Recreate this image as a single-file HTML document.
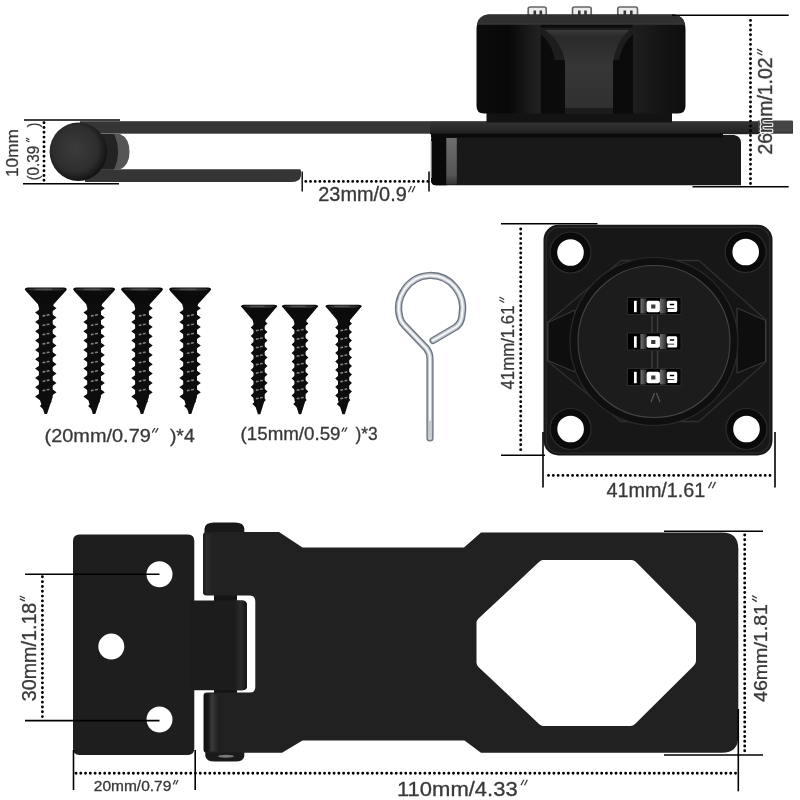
<!DOCTYPE html>
<html><head><meta charset="utf-8">
<style>
html,body{margin:0;padding:0;background:#fff;}
body{width:800px;height:800px;overflow:hidden;}
svg{display:block;}
text{font-family:"Liberation Sans",sans-serif;fill:#383838;stroke:#383838;stroke-width:0.3px;}
</style></head><body>
<svg width="800" height="800" viewBox="0 0 800 800">
<defs>
<radialGradient id="ballg" cx="0.45" cy="0.45" r="0.56"><stop offset="0" stop-color="#3b3b3b"/><stop offset="0.7" stop-color="#2e2e2e"/><stop offset="0.9" stop-color="#1c1c1c"/><stop offset="1" stop-color="#121212"/></radialGradient>
<linearGradient id="stripg" x1="0" y1="0" x2="0" y2="1"><stop offset="0" stop-color="#6e6e6e"/><stop offset="0.8" stop-color="#555"/><stop offset="1" stop-color="#333"/></linearGradient>
<linearGradient id="tongueg" x1="0" y1="0" x2="0" y2="1"><stop offset="0" stop-color="#3a3a3a"/><stop offset="0.08" stop-color="#2a2a2a"/><stop offset="0.45" stop-color="#363636"/><stop offset="1" stop-color="#303030"/></linearGradient>
<filter id="soft" color-interpolation-filters="sRGB" x="0" y="0" width="800" height="800" filterUnits="userSpaceOnUse"><feGaussianBlur stdDeviation="0.45"/></filter>
<clipPath id="haloclip" clipPathUnits="userSpaceOnUse"><rect x="-200" y="-30" width="400" height="60"/></clipPath>
<linearGradient id="whg" x1="0" y1="0" x2="1" y2="0"><stop offset="0" stop-color="#707070"/><stop offset="1" stop-color="#2a2a2a"/></linearGradient>
<linearGradient id="cylg" x1="0" y1="0" x2="1" y2="0"><stop offset="0" stop-color="#0c0c0c"/><stop offset="0.15" stop-color="#080808"/><stop offset="0.305" stop-color="#222"/><stop offset="0.31" stop-color="#0c0c0c"/><stop offset="0.745" stop-color="#0c0c0c"/><stop offset="0.75" stop-color="#1e1e1e"/><stop offset="0.9" stop-color="#131313"/><stop offset="1" stop-color="#0e0e0e"/></linearGradient>
<linearGradient id="plateg" x1="0" y1="0" x2="0" y2="1"><stop offset="0" stop-color="#343434"/><stop offset="1" stop-color="#202020"/></linearGradient>
<linearGradient id="barg" x1="0" y1="0" x2="1" y2="0"><stop offset="0" stop-color="#1a1a1a"/><stop offset="0.4" stop-color="#2c2c2c"/><stop offset="1" stop-color="#212121"/></linearGradient>
<linearGradient id="barg2" x1="0" y1="0" x2="1" y2="0"><stop offset="0" stop-color="#101010"/><stop offset="0.3" stop-color="#161616"/><stop offset="0.55" stop-color="#3a3a3a"/><stop offset="1" stop-color="#212121"/></linearGradient>
<linearGradient id="tabg" x1="0" y1="0" x2="1" y2="0"><stop offset="0" stop-color="#1c1c1c"/><stop offset="0.5" stop-color="#2a2a2a"/><stop offset="1" stop-color="#161616"/></linearGradient>

</defs>
<rect width="800" height="800" fill="#fff"/>
<g filter="url(#soft)">
<g id="sideview">
<!-- upper plate -->
<rect x="80" y="121.200" width="713" height="12.500" fill="#353535"/>
<rect x="430" y="121.800" width="330" height="12.400" fill="url(#plateg)"/>
<rect x="758" y="120.500" width="34.500" height="11.500" fill="#444"/>
<!-- lower bar -->
<path d="M85 169.300 H299.500 Q301 169.300 301 171 V176 Q300 182 291 182 H85 Z" fill="#353535"/>
<!-- hinge cap -->
<path d="M100 134 H120 Q129.500 138 129.500 152 Q129.500 165 120 169.500 H100 Z" fill="#565656"/>
<path d="M100 134 H114 Q118 142 118 152 Q118 161 114 169.500 H100 Z" fill="#232323"/>
<!-- ball -->
<ellipse cx="78.300" cy="151.700" rx="28.700" ry="29.200" fill="url(#ballg)"/>
<!-- base block -->
<rect x="431" y="133.500" width="292" height="4" fill="#0a0a0a"/>
<path d="M437 135 H734 Q741 136 741 143 V185.300 H436 Q431 185.300 431 180 V141 Q431 135 437 135 Z" fill="#191919"/>
<path d="M437 135 H446.500 V185.300 H436 Q431 185.300 431 180 V141 Q431 135 437 135 Z" fill="#090909"/>
<rect x="446.300" y="138" width="10.500" height="46.500" fill="url(#stripg)"/>
<rect x="431" y="134" width="292" height="3.500" fill="#0a0a0a"/>
<path d="M431.300 141 V178" stroke="#8a8a8a" stroke-width="1.200"/>
<!-- dial tabs on top -->
<g fill="#ececec" stroke="#666" stroke-width="1.700">
<rect x="528.200" y="7" width="18" height="9" rx="2"/><rect x="572.500" y="7" width="18.700" height="9" rx="2"/><rect x="617.800" y="7" width="19.700" height="9" rx="2"/>
</g>
<g fill="#3a3a3a">
<rect x="533.500" y="10.500" width="2.600" height="5"/><rect x="539.500" y="10.500" width="2.600" height="5"/>
<rect x="578" y="10.500" width="2.600" height="5"/><rect x="584.200" y="10.500" width="2.600" height="5"/>
<rect x="623.500" y="10.500" width="2.600" height="5"/><rect x="630" y="10.500" width="2.600" height="5"/>
</g>
<!-- cylinder neck -->
<rect x="486.500" y="110" width="185.500" height="12.500" fill="#131313"/>
<!-- cylinder -->
<path d="M488 14.500 H674 Q685.500 16 685.500 30 V106 Q685.500 113.500 678 113.500 H484 Q476.500 113.500 476.500 106 V30 Q476.500 16 488 14.500 Z" fill="url(#cylg)"/>
<path d="M488 14.500 H674 Q684 16 685 24 H477 Q478 16 488 14.500 Z" fill="#303030"/>
<rect x="477" y="23.500" width="208" height="1.200" fill="#3a3a3a"/>
<!-- notch -->
<rect x="541" y="27.500" width="92" height="86" fill="#0b0b0b"/>
<path d="M541 27.500 H633 V34 Q622 44 619 60 H555 Q552 44 541 34 Z" fill="#1d1d1d"/>
<path d="M545 30 H629 Q616 42 613 62 V112 H565 V62 Q562 42 545 30 Z" fill="url(#tongueg)"/>
<rect x="565" y="108" width="48" height="6" fill="#1c1c1c"/>
</g>

<g id="screws">
<path d="M24.799999999999997 289.4 Q24.799999999999997 287.8 27.799999999999997 287.59999999999997 H63.8 Q66.8 287.8 66.8 289.4 L65.3 291.4 L54.099999999999994 303.8 H37.5 L26.299999999999997 291.4 Z" fill="#0b0b0b"/>
<ellipse cx="45.8" cy="289.5" rx="18.5" ry="1.5" fill="#303030"/>
<path d="M35.3 289.3 H52.1" stroke="#555" stroke-width="1" fill="none"/>
<path d="M37.5 302.8 H54.099999999999994 L52.699999999999996 307.8 V397 L47.0 414 L44.599999999999994 414 L38.9 397 V307.8 Z" fill="#0d0d0d"/>
<path d="M39.9 309.2 L35.1 312.6 L39.9 316.2 Z M51.7 304.8 L56.5 308.2 L51.7 311.8 Z M39.9 318.5 L35.1 321.9 L39.9 325.5 Z M51.7 314.1 L56.5 317.5 L51.7 321.1 Z M39.9 327.9 L35.1 331.3 L39.9 334.9 Z M51.7 323.5 L56.5 326.9 L51.7 330.5 Z M39.9 337.2 L35.1 340.6 L39.9 344.2 Z M51.7 332.8 L56.5 336.2 L51.7 339.8 Z M39.9 346.5 L35.1 349.9 L39.9 353.5 Z M51.7 342.1 L56.5 345.5 L51.7 349.1 Z M39.9 355.8 L35.1 359.2 L39.9 362.8 Z M51.7 351.5 L56.5 354.9 L51.7 358.5 Z M39.9 365.2 L35.1 368.6 L39.9 372.2 Z M51.7 360.8 L56.5 364.2 L51.7 367.8 Z M39.9 374.5 L35.1 377.9 L39.9 381.5 Z M51.7 370.1 L56.5 373.5 L51.7 377.1 Z M39.9 383.8 L35.1 387.2 L39.9 390.8 Z M51.7 379.5 L56.5 382.9 L51.7 386.5 Z M39.9 393.2 L35.1 396.6 L39.9 400.2 Z M51.7 388.8 L56.5 392.2 L51.7 395.8 Z M43.5 402.5 L39.8 405.9 L43.5 409.5 Z M48.1 398.1 L51.8 401.5 L48.1 405.1 Z " fill="#0d0d0d"/>
<path d="M43.2 315.9 l1.5 -0.3 M47.4 315.1 l1.5 -0.3 M43.2 325.3 l1.5 -0.3 M47.4 324.5 l1.5 -0.3 M43.2 334.6 l1.5 -0.3 M47.4 333.8 l1.5 -0.3 M43.2 343.9 l1.5 -0.3 M47.4 343.1 l1.5 -0.3 M43.2 353.3 l1.5 -0.3 M47.4 352.5 l1.5 -0.3 M43.2 362.6 l1.5 -0.3 M47.4 361.8 l1.5 -0.3 M43.2 371.9 l1.5 -0.3 M47.4 371.1 l1.5 -0.3 M43.2 381.2 l1.5 -0.3 M47.4 380.4 l1.5 -0.3 M43.2 390.6 l1.5 -0.3 M47.4 389.8 l1.5 -0.3 " stroke="#808080" stroke-width="1.6" fill="none" stroke-linecap="round"/>
<path d="M73.1 289.4 Q73.1 287.8 76.1 287.59999999999997 H112.1 Q115.1 287.8 115.1 289.4 L113.6 291.4 L102.39999999999999 303.8 H85.8 L74.6 291.4 Z" fill="#0b0b0b"/>
<ellipse cx="94.1" cy="289.5" rx="18.5" ry="1.5" fill="#303030"/>
<path d="M83.6 289.3 H100.4" stroke="#555" stroke-width="1" fill="none"/>
<path d="M85.8 302.8 H102.39999999999999 L101.0 307.8 V397 L95.3 414 L92.89999999999999 414 L87.19999999999999 397 V307.8 Z" fill="#0d0d0d"/>
<path d="M88.2 309.2 L83.4 312.6 L88.2 316.2 Z M100.0 304.8 L104.8 308.2 L100.0 311.8 Z M88.2 318.5 L83.4 321.9 L88.2 325.5 Z M100.0 314.1 L104.8 317.5 L100.0 321.1 Z M88.2 327.9 L83.4 331.3 L88.2 334.9 Z M100.0 323.5 L104.8 326.9 L100.0 330.5 Z M88.2 337.2 L83.4 340.6 L88.2 344.2 Z M100.0 332.8 L104.8 336.2 L100.0 339.8 Z M88.2 346.5 L83.4 349.9 L88.2 353.5 Z M100.0 342.1 L104.8 345.5 L100.0 349.1 Z M88.2 355.8 L83.4 359.2 L88.2 362.8 Z M100.0 351.5 L104.8 354.9 L100.0 358.5 Z M88.2 365.2 L83.4 368.6 L88.2 372.2 Z M100.0 360.8 L104.8 364.2 L100.0 367.8 Z M88.2 374.5 L83.4 377.9 L88.2 381.5 Z M100.0 370.1 L104.8 373.5 L100.0 377.1 Z M88.2 383.8 L83.4 387.2 L88.2 390.8 Z M100.0 379.5 L104.8 382.9 L100.0 386.5 Z M88.2 393.2 L83.4 396.6 L88.2 400.2 Z M100.0 388.8 L104.8 392.2 L100.0 395.8 Z M91.8 402.5 L88.1 405.9 L91.8 409.5 Z M96.4 398.1 L100.1 401.5 L96.4 405.1 Z " fill="#0d0d0d"/>
<path d="M91.5 315.9 l1.5 -0.3 M95.7 315.1 l1.5 -0.3 M91.5 325.3 l1.5 -0.3 M95.7 324.5 l1.5 -0.3 M91.5 334.6 l1.5 -0.3 M95.7 333.8 l1.5 -0.3 M91.5 343.9 l1.5 -0.3 M95.7 343.1 l1.5 -0.3 M91.5 353.3 l1.5 -0.3 M95.7 352.5 l1.5 -0.3 M91.5 362.6 l1.5 -0.3 M95.7 361.8 l1.5 -0.3 M91.5 371.9 l1.5 -0.3 M95.7 371.1 l1.5 -0.3 M91.5 381.2 l1.5 -0.3 M95.7 380.4 l1.5 -0.3 M91.5 390.6 l1.5 -0.3 M95.7 389.8 l1.5 -0.3 " stroke="#808080" stroke-width="1.6" fill="none" stroke-linecap="round"/>
<path d="M121 289.4 Q121 287.8 124 287.59999999999997 H160 Q163 287.8 163 289.4 L161.5 291.4 L150.3 303.8 H133.7 L122.5 291.4 Z" fill="#0b0b0b"/>
<ellipse cx="142" cy="289.5" rx="18.5" ry="1.5" fill="#303030"/>
<path d="M131.5 289.3 H148.3" stroke="#555" stroke-width="1" fill="none"/>
<path d="M133.7 302.8 H150.3 L148.9 307.8 V397 L143.2 414 L140.8 414 L135.1 397 V307.8 Z" fill="#0d0d0d"/>
<path d="M136.1 309.2 L131.3 312.6 L136.1 316.2 Z M147.9 304.8 L152.7 308.2 L147.9 311.8 Z M136.1 318.5 L131.3 321.9 L136.1 325.5 Z M147.9 314.1 L152.7 317.5 L147.9 321.1 Z M136.1 327.9 L131.3 331.3 L136.1 334.9 Z M147.9 323.5 L152.7 326.9 L147.9 330.5 Z M136.1 337.2 L131.3 340.6 L136.1 344.2 Z M147.9 332.8 L152.7 336.2 L147.9 339.8 Z M136.1 346.5 L131.3 349.9 L136.1 353.5 Z M147.9 342.1 L152.7 345.5 L147.9 349.1 Z M136.1 355.8 L131.3 359.2 L136.1 362.8 Z M147.9 351.5 L152.7 354.9 L147.9 358.5 Z M136.1 365.2 L131.3 368.6 L136.1 372.2 Z M147.9 360.8 L152.7 364.2 L147.9 367.8 Z M136.1 374.5 L131.3 377.9 L136.1 381.5 Z M147.9 370.1 L152.7 373.5 L147.9 377.1 Z M136.1 383.8 L131.3 387.2 L136.1 390.8 Z M147.9 379.5 L152.7 382.9 L147.9 386.5 Z M136.1 393.2 L131.3 396.6 L136.1 400.2 Z M147.9 388.8 L152.7 392.2 L147.9 395.8 Z M139.7 402.5 L136.0 405.9 L139.7 409.5 Z M144.3 398.1 L148.0 401.5 L144.3 405.1 Z " fill="#0d0d0d"/>
<path d="M139.4 315.9 l1.5 -0.3 M143.6 315.1 l1.5 -0.3 M139.4 325.3 l1.5 -0.3 M143.6 324.5 l1.5 -0.3 M139.4 334.6 l1.5 -0.3 M143.6 333.8 l1.5 -0.3 M139.4 343.9 l1.5 -0.3 M143.6 343.1 l1.5 -0.3 M139.4 353.3 l1.5 -0.3 M143.6 352.5 l1.5 -0.3 M139.4 362.6 l1.5 -0.3 M143.6 361.8 l1.5 -0.3 M139.4 371.9 l1.5 -0.3 M143.6 371.1 l1.5 -0.3 M139.4 381.2 l1.5 -0.3 M143.6 380.4 l1.5 -0.3 M139.4 390.6 l1.5 -0.3 M143.6 389.8 l1.5 -0.3 " stroke="#808080" stroke-width="1.6" fill="none" stroke-linecap="round"/>
<path d="M169.1 289.4 Q169.1 287.8 172.1 287.59999999999997 H208.1 Q211.1 287.8 211.1 289.4 L209.6 291.4 L198.4 303.8 H181.79999999999998 L170.6 291.4 Z" fill="#0b0b0b"/>
<ellipse cx="190.1" cy="289.5" rx="18.5" ry="1.5" fill="#303030"/>
<path d="M179.6 289.3 H196.4" stroke="#555" stroke-width="1" fill="none"/>
<path d="M181.79999999999998 302.8 H198.4 L197.0 307.8 V397 L191.29999999999998 414 L188.9 414 L183.2 397 V307.8 Z" fill="#0d0d0d"/>
<path d="M184.2 309.2 L179.4 312.6 L184.2 316.2 Z M196.0 304.8 L200.8 308.2 L196.0 311.8 Z M184.2 318.5 L179.4 321.9 L184.2 325.5 Z M196.0 314.1 L200.8 317.5 L196.0 321.1 Z M184.2 327.9 L179.4 331.3 L184.2 334.9 Z M196.0 323.5 L200.8 326.9 L196.0 330.5 Z M184.2 337.2 L179.4 340.6 L184.2 344.2 Z M196.0 332.8 L200.8 336.2 L196.0 339.8 Z M184.2 346.5 L179.4 349.9 L184.2 353.5 Z M196.0 342.1 L200.8 345.5 L196.0 349.1 Z M184.2 355.8 L179.4 359.2 L184.2 362.8 Z M196.0 351.5 L200.8 354.9 L196.0 358.5 Z M184.2 365.2 L179.4 368.6 L184.2 372.2 Z M196.0 360.8 L200.8 364.2 L196.0 367.8 Z M184.2 374.5 L179.4 377.9 L184.2 381.5 Z M196.0 370.1 L200.8 373.5 L196.0 377.1 Z M184.2 383.8 L179.4 387.2 L184.2 390.8 Z M196.0 379.5 L200.8 382.9 L196.0 386.5 Z M184.2 393.2 L179.4 396.6 L184.2 400.2 Z M196.0 388.8 L200.8 392.2 L196.0 395.8 Z M187.8 402.5 L184.1 405.9 L187.8 409.5 Z M192.4 398.1 L196.1 401.5 L192.4 405.1 Z " fill="#0d0d0d"/>
<path d="M187.5 315.9 l1.5 -0.3 M191.7 315.1 l1.5 -0.3 M187.5 325.3 l1.5 -0.3 M191.7 324.5 l1.5 -0.3 M187.5 334.6 l1.5 -0.3 M191.7 333.8 l1.5 -0.3 M187.5 343.9 l1.5 -0.3 M191.7 343.1 l1.5 -0.3 M187.5 353.3 l1.5 -0.3 M191.7 352.5 l1.5 -0.3 M187.5 362.6 l1.5 -0.3 M191.7 361.8 l1.5 -0.3 M187.5 371.9 l1.5 -0.3 M191.7 371.1 l1.5 -0.3 M187.5 381.2 l1.5 -0.3 M191.7 380.4 l1.5 -0.3 M187.5 390.6 l1.5 -0.3 M191.7 389.8 l1.5 -0.3 " stroke="#808080" stroke-width="1.6" fill="none" stroke-linecap="round"/>
<path d="M240.90000000000003 306.5 Q240.90000000000003 304.90000000000003 243.90000000000003 304.7 H274.3 Q277.3 304.90000000000003 277.3 306.5 L275.8 307.90000000000003 L266.1 319.5 H252.10000000000002 L242.40000000000003 307.90000000000003 Z" fill="#0b0b0b"/>
<ellipse cx="259.1" cy="306.6" rx="15.7" ry="1.5" fill="#303030"/>
<path d="M250.0 306.40000000000003 H264.6" stroke="#555" stroke-width="1" fill="none"/>
<path d="M252.10000000000002 318.5 H266.1 L264.70000000000005 323.5 V400 L260.3 414.3 L257.90000000000003 414.3 L253.50000000000003 400 V323.5 Z" fill="#0d0d0d"/>
<path d="M254.5 324.1 L250.7 327.5 L254.5 331.1 Z M263.7 320.1 L267.5 323.5 L263.7 327.1 Z M254.5 332.6 L250.7 336.0 L254.5 339.6 Z M263.7 328.6 L267.5 332.0 L263.7 335.6 Z M254.5 341.1 L250.7 344.5 L254.5 348.1 Z M263.7 337.1 L267.5 340.5 L263.7 344.1 Z M254.5 349.6 L250.7 353.0 L254.5 356.6 Z M263.7 345.6 L267.5 349.0 L263.7 352.6 Z M254.5 358.1 L250.7 361.5 L254.5 365.1 Z M263.7 354.1 L267.5 357.5 L263.7 361.1 Z M254.5 366.6 L250.7 370.0 L254.5 373.6 Z M263.7 362.6 L267.5 366.0 L263.7 369.6 Z M254.5 375.1 L250.7 378.5 L254.5 382.1 Z M263.7 371.1 L267.5 374.5 L263.7 378.1 Z M254.5 383.6 L250.7 387.0 L254.5 390.6 Z M263.7 379.6 L267.5 383.0 L263.7 386.6 Z M254.5 392.1 L250.7 395.5 L254.5 399.1 Z M263.7 388.1 L267.5 391.5 L263.7 395.1 Z M256.1 400.6 L252.3 404.0 L256.1 407.6 Z M262.1 396.6 L265.9 400.0 L262.1 403.6 Z " fill="#0d0d0d"/>
<path d="M256.5 330.6 l1.5 -0.3 M260.7 329.8 l1.5 -0.3 M256.5 339.1 l1.5 -0.3 M260.7 338.3 l1.5 -0.3 M256.5 347.6 l1.5 -0.3 M260.7 346.8 l1.5 -0.3 M256.5 356.1 l1.5 -0.3 M260.7 355.3 l1.5 -0.3 M256.5 364.6 l1.5 -0.3 M260.7 363.8 l1.5 -0.3 M256.5 373.1 l1.5 -0.3 M260.7 372.3 l1.5 -0.3 M256.5 381.6 l1.5 -0.3 M260.7 380.8 l1.5 -0.3 M256.5 390.1 l1.5 -0.3 M260.7 389.3 l1.5 -0.3 M256.5 398.6 l1.5 -0.3 M260.7 397.8 l1.5 -0.3 " stroke="#808080" stroke-width="1.6" fill="none" stroke-linecap="round"/>
<path d="M281.8 306.5 Q281.8 304.90000000000003 284.8 304.7 H315.2 Q318.2 304.90000000000003 318.2 306.5 L316.7 307.90000000000003 L307.0 319.5 H293.0 L283.3 307.90000000000003 Z" fill="#0b0b0b"/>
<ellipse cx="300" cy="306.6" rx="15.7" ry="1.5" fill="#303030"/>
<path d="M290.9 306.40000000000003 H305.5" stroke="#555" stroke-width="1" fill="none"/>
<path d="M293.0 318.5 H307.0 L305.6 323.5 V400 L301.2 414.3 L298.8 414.3 L294.4 400 V323.5 Z" fill="#0d0d0d"/>
<path d="M295.4 324.1 L291.6 327.5 L295.4 331.1 Z M304.6 320.1 L308.4 323.5 L304.6 327.1 Z M295.4 332.6 L291.6 336.0 L295.4 339.6 Z M304.6 328.6 L308.4 332.0 L304.6 335.6 Z M295.4 341.1 L291.6 344.5 L295.4 348.1 Z M304.6 337.1 L308.4 340.5 L304.6 344.1 Z M295.4 349.6 L291.6 353.0 L295.4 356.6 Z M304.6 345.6 L308.4 349.0 L304.6 352.6 Z M295.4 358.1 L291.6 361.5 L295.4 365.1 Z M304.6 354.1 L308.4 357.5 L304.6 361.1 Z M295.4 366.6 L291.6 370.0 L295.4 373.6 Z M304.6 362.6 L308.4 366.0 L304.6 369.6 Z M295.4 375.1 L291.6 378.5 L295.4 382.1 Z M304.6 371.1 L308.4 374.5 L304.6 378.1 Z M295.4 383.6 L291.6 387.0 L295.4 390.6 Z M304.6 379.6 L308.4 383.0 L304.6 386.6 Z M295.4 392.1 L291.6 395.5 L295.4 399.1 Z M304.6 388.1 L308.4 391.5 L304.6 395.1 Z M297.0 400.6 L293.2 404.0 L297.0 407.6 Z M303.0 396.6 L306.8 400.0 L303.0 403.6 Z " fill="#0d0d0d"/>
<path d="M297.4 330.6 l1.5 -0.3 M301.6 329.8 l1.5 -0.3 M297.4 339.1 l1.5 -0.3 M301.6 338.3 l1.5 -0.3 M297.4 347.6 l1.5 -0.3 M301.6 346.8 l1.5 -0.3 M297.4 356.1 l1.5 -0.3 M301.6 355.3 l1.5 -0.3 M297.4 364.6 l1.5 -0.3 M301.6 363.8 l1.5 -0.3 M297.4 373.1 l1.5 -0.3 M301.6 372.3 l1.5 -0.3 M297.4 381.6 l1.5 -0.3 M301.6 380.8 l1.5 -0.3 M297.4 390.1 l1.5 -0.3 M301.6 389.3 l1.5 -0.3 M297.4 398.6 l1.5 -0.3 M301.6 397.8 l1.5 -0.3 " stroke="#808080" stroke-width="1.6" fill="none" stroke-linecap="round"/>
<path d="M325.40000000000003 306.5 Q325.40000000000003 304.90000000000003 328.40000000000003 304.7 H358.8 Q361.8 304.90000000000003 361.8 306.5 L360.3 307.90000000000003 L350.6 319.5 H336.6 L326.90000000000003 307.90000000000003 Z" fill="#0b0b0b"/>
<ellipse cx="343.6" cy="306.6" rx="15.7" ry="1.5" fill="#303030"/>
<path d="M334.5 306.40000000000003 H349.1" stroke="#555" stroke-width="1" fill="none"/>
<path d="M336.6 318.5 H350.6 L349.20000000000005 323.5 V400 L344.8 414.3 L342.40000000000003 414.3 L338.0 400 V323.5 Z" fill="#0d0d0d"/>
<path d="M339.0 324.1 L335.2 327.5 L339.0 331.1 Z M348.2 320.1 L352.0 323.5 L348.2 327.1 Z M339.0 332.6 L335.2 336.0 L339.0 339.6 Z M348.2 328.6 L352.0 332.0 L348.2 335.6 Z M339.0 341.1 L335.2 344.5 L339.0 348.1 Z M348.2 337.1 L352.0 340.5 L348.2 344.1 Z M339.0 349.6 L335.2 353.0 L339.0 356.6 Z M348.2 345.6 L352.0 349.0 L348.2 352.6 Z M339.0 358.1 L335.2 361.5 L339.0 365.1 Z M348.2 354.1 L352.0 357.5 L348.2 361.1 Z M339.0 366.6 L335.2 370.0 L339.0 373.6 Z M348.2 362.6 L352.0 366.0 L348.2 369.6 Z M339.0 375.1 L335.2 378.5 L339.0 382.1 Z M348.2 371.1 L352.0 374.5 L348.2 378.1 Z M339.0 383.6 L335.2 387.0 L339.0 390.6 Z M348.2 379.6 L352.0 383.0 L348.2 386.6 Z M339.0 392.1 L335.2 395.5 L339.0 399.1 Z M348.2 388.1 L352.0 391.5 L348.2 395.1 Z M340.6 400.6 L336.8 404.0 L340.6 407.6 Z M346.6 396.6 L350.4 400.0 L346.6 403.6 Z " fill="#0d0d0d"/>
<path d="M341.0 330.6 l1.5 -0.3 M345.2 329.8 l1.5 -0.3 M341.0 339.1 l1.5 -0.3 M345.2 338.3 l1.5 -0.3 M341.0 347.6 l1.5 -0.3 M345.2 346.8 l1.5 -0.3 M341.0 356.1 l1.5 -0.3 M345.2 355.3 l1.5 -0.3 M341.0 364.6 l1.5 -0.3 M345.2 363.8 l1.5 -0.3 M341.0 373.1 l1.5 -0.3 M345.2 372.3 l1.5 -0.3 M341.0 381.6 l1.5 -0.3 M345.2 380.8 l1.5 -0.3 M341.0 390.1 l1.5 -0.3 M345.2 389.3 l1.5 -0.3 M341.0 398.6 l1.5 -0.3 M345.2 397.8 l1.5 -0.3 " stroke="#808080" stroke-width="1.6" fill="none" stroke-linecap="round"/>
</g>
<g id="key" fill="none" stroke-linecap="round" stroke-linejoin="round">
<path d="M433 340.500 L456 327 Q461.500 323 462 315 A32 33 0 1 0 400 318 Q401 322 404.500 325.500 L426.500 348.500 Q430 353 430 359 V438" stroke="#6e7680" stroke-width="7.2"/>
<path d="M433 340.500 L456 327 Q461.500 323 462 315 A32 33 0 1 0 400 318 Q401 322 404.500 325.500 L426.500 348.500 Q430 353 430 359 V438" stroke="#c2c7ce" stroke-width="4.400"/>
<path d="M433 340.500 L456 327 Q461.500 323 462 315 A32 33 0 1 0 400 318 Q401 322 404.500 325.500 L426.500 348.500 Q430 353 430 359 V438" stroke="#f6f7f8" stroke-width="2.000"/>
<path d="M430 421 V438" stroke="#9aa0a9" stroke-width="1"/>
</g>

<g id="lock">
<rect x="543.500" y="224.800" width="229" height="230.700" rx="15" ry="15" fill="#171717"/>
<rect x="546.200" y="227.300" width="223.600" height="225.700" rx="13" ry="13" fill="none" stroke="#2c2c2c" stroke-width="1.200"/>
<!-- raised hex -->
<path d="M547.500 322.500 L621 260.500 H699 L766 320 V362 L699 421.500 H621 L547.500 361 Z" fill="#151515" stroke="#303030" stroke-width="1.300" stroke-linejoin="round"/>
<path d="M548 322.500 L575 310 V372 L548 360.500 Z" fill="#0e0e0e" stroke="#3c3c3c" stroke-width="1"/>
<path d="M765.500 320.500 L737 308 V373 L765.500 361.500 Z" fill="#0e0e0e" stroke="#3c3c3c" stroke-width="1"/>
<!-- outer ring and face -->
<circle cx="654" cy="341.500" r="84" fill="#0f0f0f" stroke="#2a2a2a" stroke-width="1.200"/>
<circle cx="654" cy="341.500" r="76" fill="#1c1c1c" stroke="#444" stroke-width="1.100"/>
<!-- corner holes -->
<g fill="#0a0a0a" stroke="#2c2c2c" stroke-width="1.200">
<circle cx="570.500" cy="252.500" r="20.500"/><circle cx="745.700" cy="252" r="20.500"/><circle cx="570.600" cy="429" r="20.500"/><circle cx="746.500" cy="429" r="20.500"/>
</g>
<g fill="#fff">
<circle cx="570.500" cy="252.500" r="13.300"/><circle cx="745.700" cy="252" r="13.300"/><circle cx="570.600" cy="429" r="13.300"/><circle cx="746.500" cy="429" r="13.300"/>
</g>
<!-- windows -->
<g fill="#000" stroke="#2a2a2a" stroke-width="1">
<rect x="627.500" y="297.500" width="53.500" height="17"/><rect x="627.500" y="333" width="53.500" height="17"/><rect x="627.500" y="368.500" width="53.500" height="17"/>
</g>
<g id="wh">
<rect x="640.500" y="298.500" width="6" height="15" fill="url(#whg)"/>
<rect x="660" y="298.500" width="6.500" height="15" fill="url(#whg)"/>
</g>
<use href="#wh" y="35.500"/><use href="#wh" y="71"/>
<g fill="#3c3c3c">
<rect x="651.300" y="315.500" width="1.500" height="17"/><rect x="656.800" y="315.500" width="1.500" height="17"/>
<rect x="651.300" y="351" width="1.500" height="17"/><rect x="656.800" y="351" width="1.500" height="17"/>
</g>
<path d="M651 402 L654.500 393 M656.500 393 L660 402" stroke="#555" stroke-width="1.300" fill="none"/>
<!-- digits -->
<g id="dg">
<rect x="634" y="300.800" width="2.700" height="11.400" fill="#fff"/>
<rect x="646.600" y="300.800" width="13.300" height="11.500" rx="2" fill="#fff"/>
<rect x="651.200" y="304.500" width="4.200" height="4" fill="#3a3a3a"/>
<path d="M675.700 306.700 H668.300 V302.300 H675.700 V310.600 H667.600" fill="none" stroke="#fff" stroke-width="3" stroke-linejoin="round"/>
</g>
<use href="#dg" y="35.500"/>
<use href="#dg" y="71"/>
</g>

<g id="hasp">
<!-- left plate with holes -->
<path fill-rule="evenodd" fill="#1e1e1e" d="M79.500 534.500 H188 Q194.300 534.500 194.300 541 V748.500 Q194.300 755 188 755 H79.500 Q73 755 73 748.500 V541 Q73 534.500 79.500 534.500 Z
M172.500 574.200 a13 13 0 1 0 -26 0 a13 13 0 1 0 26 0 Z
M124.300 646.600 a13 13 0 1 0 -26 0 a13 13 0 1 0 26 0 Z
M172.500 719.500 a13 13 0 1 0 -26 0 a13 13 0 1 0 26 0 Z"/>
<!-- pin between -->
<rect x="214" y="594" width="23" height="8" fill="#151515"/>
<rect x="214" y="689" width="23" height="5" fill="#151515"/>
<!-- tab -->
<path d="M190 600.500 H242 Q247 600.500 247 605.500 V686 Q247 690.300 242 690.300 H190 Z" fill="#1c1c1c"/>
<path d="M234 600.500 H242 Q247 600.500 247 605.500 V686 Q247 690.300 242 690.300 H234 Z" fill="url(#tabg)"/>
<!-- pin caps -->
<path d="M204.500 533 V528.500 Q205 522.500 214 522.500 H235 Q244 522.500 244.300 528.500 V533 Z" fill="#181818"/>
<path d="M205.300 752 V756 Q206 761.500 215 761.500 H235 Q244 761.500 244.300 756 V752 Z" fill="#1a1a1a"/>
<ellipse cx="226" cy="756.300" rx="8" ry="1.500" fill="#7a7a7a"/>
<!-- main body -->
<path fill-rule="evenodd" fill="#212121" d="M206.500 532 H279 L302.500 547.500 H464 L481 532.600 H722 Q738.300 532.600 738.300 549 V736.500 Q738.300 752.800 722 752.800 H481 L464.500 740.500 H302.500 L282 752.800 H207 Q203.500 752.800 203.500 749.500 V695.500 Q203.500 692.500 207 692.500 H250 Q255.300 692.500 255.300 687 V601.500 Q255.300 595.500 250 595.500 H206.500 Q203 595.500 203 592 V535.500 Q203 532 206.500 532 Z
M543 560 H631.500 Q634 560 636 562 L694 620.500 Q696 622.500 696 625 V661 Q696 663.500 694 665.500 L635 724 Q633 726 630.500 726 H543.500 Q541 726 539 724 L478.500 667 Q476.500 665 476.500 662.500 V623 Q476.500 620.500 478.500 618.500 L539 562 Q541 560 543 560 Z"/>
<rect x="203.300" y="534" width="9" height="60" fill="url(#barg)"/>
<rect x="204" y="694" width="14" height="57.500" fill="url(#barg2)"/>
</g>

<g id="dims">
<path d="M24 120 L120 120" stroke="#000" stroke-width="1.6" fill="none"/>
<path d="M23 183.7 L119 183.7" stroke="#000" stroke-width="1.6" fill="none"/>
<path d="M44 122.7 L44.0 180.35" stroke="#000" stroke-width="2.9" stroke-dasharray="0.01 4.790" stroke-linecap="round" fill="none"/>
<path d="M302.2 171.5 L302.2 191.5" stroke="#000" stroke-width="1.4" fill="none"/>
<path d="M429 171.5 L429 191.5" stroke="#000" stroke-width="1.5" fill="none"/>
<path d="M305.8 181.4 L427.85 181.4" stroke="#000" stroke-width="2.9" stroke-dasharray="0.01 4.682" stroke-linecap="round" fill="none"/>
<path d="M672 15.2 L788.7 15.2" stroke="#000" stroke-width="1.6" fill="none"/>
<path d="M692.5 186.7 L788.7 186.7" stroke="#000" stroke-width="1.6" fill="none"/>
<path d="M750.5 20.4 L750.5 183.55" stroke="#000" stroke-width="2.9" stroke-dasharray="0.01 4.787" stroke-linecap="round" fill="none"/>
<path d="M501 223.8 L597.5 223.8" stroke="#000" stroke-width="1.6" fill="none"/>
<path d="M501 455.3 L545 455.3" stroke="#000" stroke-width="1.6" fill="none"/>
<path d="M520.7 229 L520.7 449.65" stroke="#000" stroke-width="2.9" stroke-dasharray="0.01 4.786" stroke-linecap="round" fill="none"/>
<path d="M543 432 L543 487.5" stroke="#000" stroke-width="1.6" fill="none"/>
<path d="M775 432 L775 487.5" stroke="#000" stroke-width="1.6" fill="none"/>
<path d="M548.5 475.4 L770.05 475.4" stroke="#000" stroke-width="2.9" stroke-dasharray="0.01 4.805" stroke-linecap="round" fill="none"/>
<path d="M25 574.2 L159.5 574.2" stroke="#000" stroke-width="1.6" fill="none"/>
<path d="M25 720.6 L159.5 720.6" stroke="#000" stroke-width="1.6" fill="none"/>
<path d="M42.4 576.8 L42.4 716.65" stroke="#000" stroke-width="2.9" stroke-dasharray="0.01 4.811" stroke-linecap="round" fill="none"/>
<path d="M664 531.2 L763 531.2" stroke="#000" stroke-width="1.6" fill="none"/>
<path d="M664 755 L763 755" stroke="#000" stroke-width="1.6" fill="none"/>
<path d="M744.7 535 L744.7 750.85" stroke="#000" stroke-width="2.9" stroke-dasharray="0.01 4.786" stroke-linecap="round" fill="none"/>
<path d="M73.5 750 L73.5 790" stroke="#000" stroke-width="1.6" fill="none"/>
<path d="M195.2 750 L195.2 790" stroke="#000" stroke-width="1.6" fill="none"/>
<path d="M738.3 709 L738.3 791.3" stroke="#000" stroke-width="1.6" fill="none"/>
<path d="M76 773.2 L735.55 773.2" stroke="#000" stroke-width="2.9" stroke-dasharray="0.01 4.769" stroke-linecap="round" fill="none"/>
</g>
<g id="texts">
<text x="318.3" y="201.2" font-size="19.3" textLength="88.5" lengthAdjust="spacingAndGlyphs">23mm/0.9</text>
<path d="M411.43 186.00 L408.50 192.20 M415.00 186.00 L412.07 192.20" stroke="#3a3a3a" stroke-width="1.3" fill="none"/>
<text transform="translate(18.0 177) rotate(-90)" x="0" y="0" font-size="17.4" textLength="47.8" lengthAdjust="spacingAndGlyphs">10mm</text>
<text transform="translate(38.8 180.6) rotate(-90)" x="0" y="0" font-size="17.4" textLength="35" lengthAdjust="spacingAndGlyphs">(0.39</text>
<path d="M26.00 140.20 L29.40 142.00 M26.00 138.00 L29.40 139.80" stroke="#3a3a3a" stroke-width="1.3" fill="none"/>
<text transform="translate(38.8 127.2) rotate(-90)" x="0" y="0" font-size="17.4" textLength="4.6" lengthAdjust="spacingAndGlyphs">)</text>
<text transform="translate(772 154.6) rotate(-90)" x="0" y="0" font-size="19.8" textLength="97.2" lengthAdjust="spacingAndGlyphs" style="stroke:#f4f4f4;stroke-width:2.6px;stroke-linejoin:round;fill:#f4f4f4" clip-path="url(#haloclip)">26mm/1.02</text>
<text transform="translate(772 154.6) rotate(-90)" x="0" y="0" font-size="19.8" textLength="97.2" lengthAdjust="spacingAndGlyphs">26mm/1.02</text>
<path d="M757.00 52.50 L762.30 55.20 M757.00 49.20 L762.30 51.90" stroke="#3a3a3a" stroke-width="1.3" fill="none"/>
<text transform="translate(514.4 389.5) rotate(-90)" x="0" y="0" font-size="19.1" textLength="84" lengthAdjust="spacingAndGlyphs">41mm/1.61</text>
<path d="M499.40 300.02 L504.20 302.50 M499.40 297.00 L504.20 299.48" stroke="#3a3a3a" stroke-width="1.3" fill="none"/>
<text x="606.4" y="497.1" font-size="19.4" textLength="99" lengthAdjust="spacingAndGlyphs">41mm/1.61</text>
<path d="M711.65 481.90 L708.50 488.20 M715.50 481.90 L712.35 488.20" stroke="#3a3a3a" stroke-width="1.3" fill="none"/>
<text x="44.6" y="442.3" font-size="19.1" textLength="106.2" lengthAdjust="spacingAndGlyphs">(20mm/0.79</text>
<path d="M154.90 428.00 L152.20 432.60 M158.20 428.00 L155.50 432.60" stroke="#3a3a3a" stroke-width="1.3" fill="none"/>
<text x="169.9" y="442.3" font-size="19.1" textLength="24.9" lengthAdjust="spacingAndGlyphs">)*4</text>
<text x="240.6" y="439.8" font-size="17.7" textLength="99.9" lengthAdjust="spacingAndGlyphs">(15mm/0.59</text>
<path d="M344.14 427.40 L341.80 431.80 M347.00 427.40 L344.66 431.80" stroke="#3a3a3a" stroke-width="1.3" fill="none"/>
<text x="355.4" y="439.8" font-size="17.7" textLength="22.3" lengthAdjust="spacingAndGlyphs">)*3</text>
<text transform="translate(35.8 701.2) rotate(-90)" x="0" y="0" font-size="19.7" textLength="98.5" lengthAdjust="spacingAndGlyphs">30mm/1.18</text>
<path d="M19.80 598.86 L24.90 601.20 M19.80 596.00 L24.90 598.34" stroke="#3a3a3a" stroke-width="1.3" fill="none"/>
<text transform="translate(767.3 702) rotate(-90)" x="0" y="0" font-size="19.0" textLength="98" lengthAdjust="spacingAndGlyphs">46mm/1.81</text>
<path d="M752.20 598.90 L756.80 601.60 M752.20 595.60 L756.80 598.30" stroke="#3a3a3a" stroke-width="1.3" fill="none"/>
<text x="93.8" y="790.8" font-size="14.6" textLength="77.5" lengthAdjust="spacingAndGlyphs">20mm/0.79</text>
<path d="M175.36 780.00 L173.20 784.50 M178.00 780.00 L175.84 784.50" stroke="#3a3a3a" stroke-width="1.3" fill="none"/>
<text x="397" y="795.5" font-size="21.1" textLength="120.7" lengthAdjust="spacingAndGlyphs">110mm/4.33</text>
<path d="M523.88 779.80 L521.00 785.20 M527.40 779.80 L524.52 785.20" stroke="#3a3a3a" stroke-width="1.3" fill="none"/>
</g>
</g>
</svg>
</body></html>
